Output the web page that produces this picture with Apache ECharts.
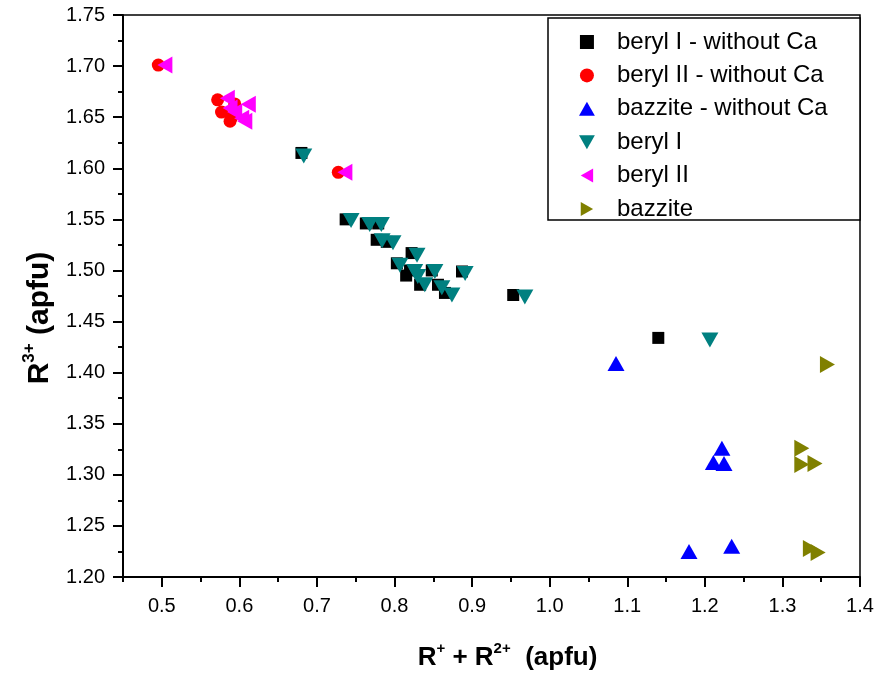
<!DOCTYPE html>
<html>
<head>
<meta charset="utf-8">
<script src="https://cdn.jsdelivr.net/npm/echarts@6/dist/echarts.min.js"></script>
<style>html,body{margin:0;padding:0;background:#fff}#c{width:877px;height:685px}</style>
</head>
<body>
<div id="c"></div>
<script>
// ---- data ----
const seriesNames = ['beryl I - without Ca','beryl II - without Ca','bazzite - without Ca','beryl I','beryl II','bazzite'];
const berylIwoCaX = [0.680,0.737,0.763,0.779,0.777,0.790,0.803,0.822,0.820,0.815,0.833,0.848,0.856,0.865,0.887,0.953,1.140];
const berylIwoCaY = [1.615,1.550,1.546,1.546,1.530,1.528,1.507,1.517,1.500,1.495,1.486,1.500,1.486,1.478,1.499,1.476,1.434];
const berylIIwoCaX = [0.4955,0.572,0.594,0.577,0.590,0.588,0.7275];
const berylIIwoCaY = [1.701,1.667,1.663,1.655,1.650,1.646,1.596];
const bazziteWoCaX = [1.0855,1.222,1.211,1.2247,1.1796,1.2346];
const bazziteWoCaY = [1.409,1.326,1.312,1.311,1.225,1.230];
const berylIX = [0.683,0.744,0.768,0.783,0.784,0.798,0.807,0.829,0.826,0.830,0.839,0.852,0.861,0.874,0.891,0.968,1.2065];
const berylIY = [1.612,1.549,1.545,1.545,1.529,1.527,1.505,1.515,1.499,1.494,1.486,1.499,1.483,1.476,1.497,1.474,1.432];
const berylIIX = [0.504,0.5845,0.6115,0.594,0.603,0.607,0.588,0.736];
const berylIIY = [1.701,1.6685,1.6626,1.655,1.649,1.646,1.659,1.596];
const bazziteX = [1.358,1.325,1.325,1.342,1.336,1.346];
const bazziteY = [1.408,1.326,1.310,1.311,1.228,1.224];
const xMajorTicks = [0.5,0.6,0.7,0.8,0.9,1.0,1.1,1.2,1.3,1.4];
const xMinorTicks = [0.45,0.55,0.65,0.75,0.85,0.95,1.05,1.15,1.25,1.35];
const yTicks = [1.20,1.25,1.30,1.35,1.40,1.45,1.50,1.55,1.60,1.65,1.70,1.75];

const FONT = '"Liberation Sans", Arial, sans-serif';
const zip = (xs, ys) => xs.map((x, i) => [x, ys[i]]);

const SYM_RECT = 'path://M0,0L12,0L12,12L0,12Z';
const SYM_UP = 'path://M8.5,0L17,15L0,15Z';
const SYM_DOWN = 'path://M0,0L17,0L8.5,15Z';
const SYM_LEFT = 'path://M15,0L15,17L0,8.5Z';
const SYM_RIGHT = 'path://M0,0L0,17L15,8.5Z';

const styles = [
  {symbol:SYM_RECT, size:12, color:'#000000', x:berylIwoCaX, y:berylIwoCaY},
  {symbol:'circle', size:13, color:'#ff0000', x:berylIIwoCaX, y:berylIIwoCaY},
  {symbol:SYM_UP, size:[17,15], color:'#0000ff', x:bazziteWoCaX, y:bazziteWoCaY},
  {symbol:SYM_DOWN, size:[17,15], color:'#008080', x:berylIX, y:berylIY},
  {symbol:SYM_LEFT, size:[15,17], color:'#ff00ff', x:berylIIX, y:berylIIY},
  {symbol:SYM_RIGHT, size:[15,17], color:'#808000', x:bazziteX, y:bazziteY}
];

const chart = echarts.init(document.getElementById('c'), null, {renderer:'canvas'});
const titleRichX = {
  b: {fontSize:26, fontWeight:'bold', fontFamily:FONT, color:'#000', lineHeight:34},
  s: {fontSize:15, fontWeight:'bold', fontFamily:FONT, color:'#000', verticalAlign:'top', lineHeight:15}
};
const titleRichY = {
  b: {fontSize:30, fontWeight:'bold', fontFamily:FONT, color:'#000', lineHeight:38},
  s: {fontSize:17, fontWeight:'bold', fontFamily:FONT, color:'#000', verticalAlign:'top', lineHeight:17}
};
chart.setOption({
  animation:false,
  backgroundColor:'#fff',
  grid:{left:123, right:17, top:15, bottom:108, show:true, borderColor:'#000', borderWidth:1.5, backgroundColor:'transparent'},
  graphic:[{type:'rect', shape:{x:548, y:18, width:312, height:202}, style:{fill:'#fff', stroke:'#000', lineWidth:1.5}, z:3}],
  legend:{
    orient:'vertical', left:574, top:25, itemWidth:50, itemHeight:14, itemGap:9.4,
    data:seriesNames,
    textStyle:{fontSize:24, fontFamily:FONT, color:'#000', lineHeight:24},
    z:5
  },
  xAxis:[{
    type:'value', min:0.45, max:1.4, interval:0.05,
    axisLine:{lineStyle:{color:'#000', width:2}},
    axisTick:{show:true, length:10, lineStyle:{width:2, color:'#000'}, customValues:xMajorTicks},
    axisLabel:{customValues:xMajorTicks, fontSize:20, fontFamily:FONT, color:'#000', margin:19, formatter:v=>v.toFixed(1)},
    splitLine:{show:false},
    name:'{b|R}{s|+}{b| + R}{s|2+}{b|  (apfu)}', nameLocation:'middle', nameGap:64,
    nameTextStyle:{rich:titleRichX, padding:[0,0,0,32]}
  },{
    type:'value', min:0.45, max:1.4, interval:0.05, position:'bottom', gridIndex:0,
    axisLine:{show:false},
    axisTick:{show:true, length:5, lineStyle:{width:2, color:'#000'}, customValues:xMinorTicks},
    axisLabel:{show:false}, splitLine:{show:false}
  }],
  yAxis:{
    type:'value', min:1.2, max:1.75, interval:0.05,
    axisLine:{show:true, lineStyle:{color:'#000', width:2}},
    axisTick:{show:true, length:10, lineStyle:{width:2, color:'#000'}},
    minorTick:{show:true, splitNumber:2, length:5, lineStyle:{width:2, color:'#000'}},
    axisLabel:{customValues:yTicks, fontSize:20, fontFamily:FONT, color:'#000', margin:18, formatter:v=>v.toFixed(2)},
    splitLine:{show:false},
    name:'{b|R}{s|3+}{b| (apfu)}', nameLocation:'middle', nameRotate:90, nameGap:64,
    nameTextStyle:{rich:titleRichY, padding:[0,44,0,0]}
  },
  series: styles.map((s, i) => ({
    name: seriesNames[i], type:'scatter', xAxisIndex:0,
    symbol:s.symbol, symbolSize:s.size,
    itemStyle:{color:s.color, opacity:1},
    emphasis:{disabled:true},
    data: zip(s.x, s.y)
  }))
});
</script>
</body>
</html>
